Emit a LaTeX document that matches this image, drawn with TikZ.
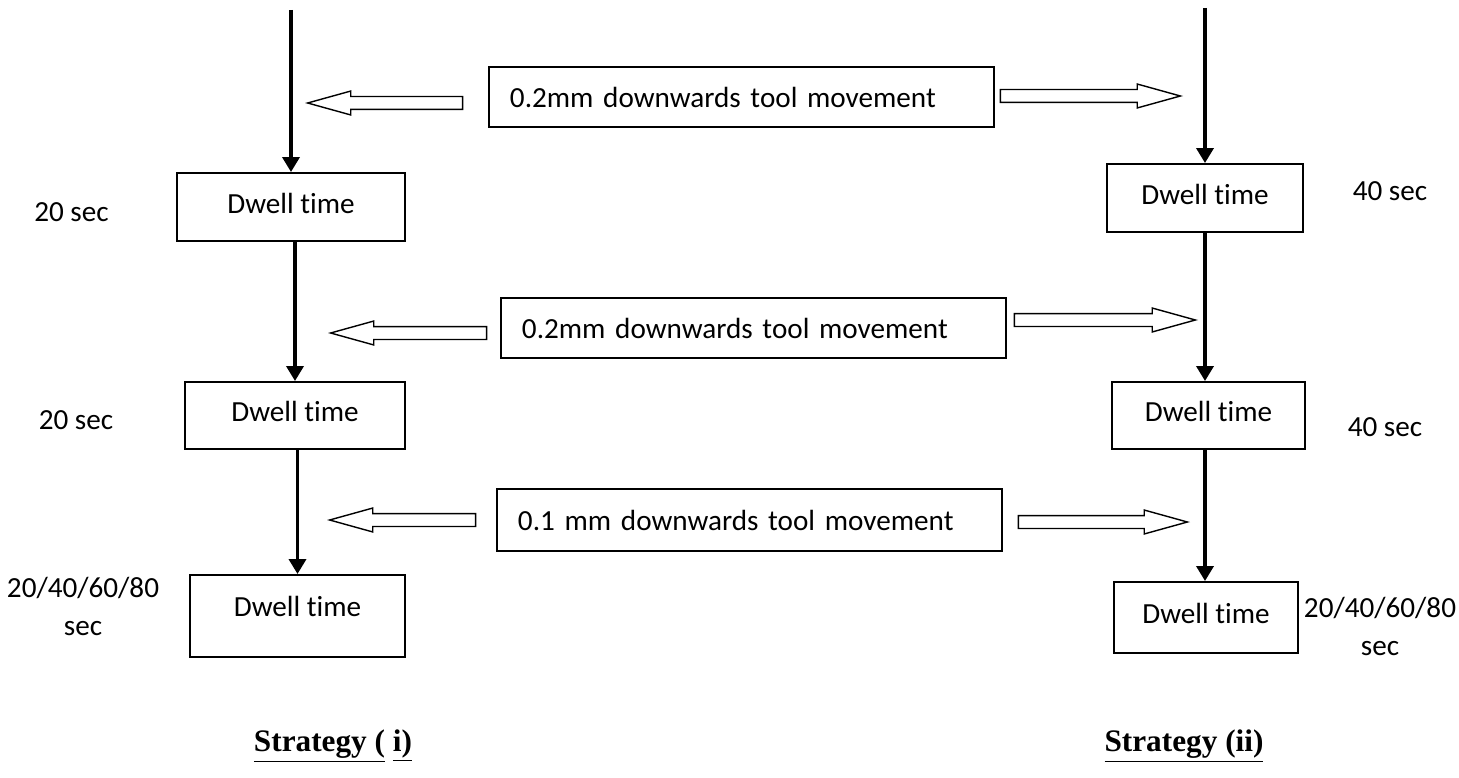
\documentclass[tikz,border=0pt]{standalone}
\usepackage{fontspec}
\setmainfont{Carlito}[Ligatures=NoCommon]
\newfontfamily\strategyfont{Liberation Serif}
\usetikzlibrary{arrows.meta,shapes.arrows}
\tikzset{
    dwell/.style={draw, line width=1.1pt, inner sep=0pt, text depth=0.16cm},
    move/.style={draw, line width=1.1pt, anchor=west, inner ysep=0pt, inner xsep=0.42cm,
        text width=9.26cm, align=left, minimum height=1.2cm},
    feed/.style={line width=2pt, -{Triangle[length=3mm,width=3.4mm]}},
    hollow/.style={single arrow, draw, line width=0.8pt, inner xsep=0pt, inner ysep=0.115cm,
        single arrow head extend=0.11cm, single arrow tip angle=31, anchor=tip},
    secs/.style={align=center},
    strategy/.style={font=\strategyfont\bfseries\fontsize{17.8}{21}\selectfont}
}
\begin{document}
\begin{tikzpicture}[font=\fontsize{16.6}{21.6}\selectfont]
                    \useasboundingbox (0,0) rectangle (29.18,-15.56);
                    % strategy (i)
                    \coordinate (topL) at (5.82,-0.2);
                    \node[dwell, minimum width=4.56cm, minimum height=1.36cm] (L1) at (5.82,-4.14) {Dwell time};
                    \node[dwell, minimum width=4.40cm, minimum height=1.34cm] (L2) at (5.90,-8.31) {Dwell time};
                    \node[dwell, minimum width=4.30cm, minimum height=1.64cm, text depth=0.4cm] (L3) at (5.95,-12.32) {Dwell time};
                    \node[secs] (sL1) at (1.43,-4.24) {20 sec};
                    \node[secs] (sL2) at (1.52,-8.40) {20 sec};
                    \node[secs] (sL3) at (1.66,-12.12) {20/40/60/80\\sec};
                    \draw[feed] (topL) -- (L1.north);
                    \draw[feed] (L1.south -| L2.north) -- (L2.north);
                    \draw[feed] (L2.south -| L3.north) -- (L3.north);
                    % strategy (ii)
                    \coordinate (topR) at (24.10,-0.16);
                    \node[dwell, minimum width=3.92cm, minimum height=1.36cm] (R1) at (24.10,-3.96) {Dwell time};
                    \node[dwell, minimum width=3.86cm, minimum height=1.34cm] (R2) at (24.17,-8.31) {Dwell time};
                    \node[dwell, minimum width=3.68cm, minimum height=1.42cm] (R3) at (24.12,-12.35) {Dwell time};
                    \node[secs] (sR1) at (27.80,-3.82) {40 sec};
                    \node[secs] (sR2) at (27.70,-8.54) {40 sec};
                    \node[secs] (sR3) at (27.60,-12.52) {20/40/60/80\\sec};
                    \draw[feed] (topR) -- (R1.north);
                    \draw[feed] (R1.south) -- (R1.south |- R2.north);
                    \draw[feed] (R2.south -| R1.south) -- (R1.south |- R3.north);
                    % tool movements
                    \node[move] (M1) at (9.76,-1.94) {0.2mm downwards tool movement};
                    \node[move] (M2) at (10.00,-6.56) {0.2mm downwards tool movement};
                    \node[move, minimum height=1.24cm] (M3) at (9.92,-10.40) {0.1 mm downwards tool movement};
                    \node[hollow, minimum height=3.10cm, shape border rotate=180] (A1L) at (6.10,-2.06) {};
                    \node[hollow, minimum height=3.60cm] (A1R) at (23.66,-1.92) {};
                    \node[hollow, minimum height=3.12cm, shape border rotate=180] (A2L) at (6.56,-6.66) {};
                    \node[hollow, minimum height=3.62cm] (A2R) at (23.96,-6.40) {};
                    \node[hollow, minimum height=2.92cm, shape border rotate=180] (A3L) at (6.54,-10.40) {};
                    \node[hollow, minimum height=3.38cm] (A3R) at (23.80,-10.44) {};
                    % labels
                    \node[strategy] (sI) at (6.66,-14.92) {\underline{Strategy (}\ \underline{i)}};
                    \node[strategy] (sII) at (23.68,-14.92) {\underline{Strategy (ii)}};
                \end{tikzpicture}
\end{document}
